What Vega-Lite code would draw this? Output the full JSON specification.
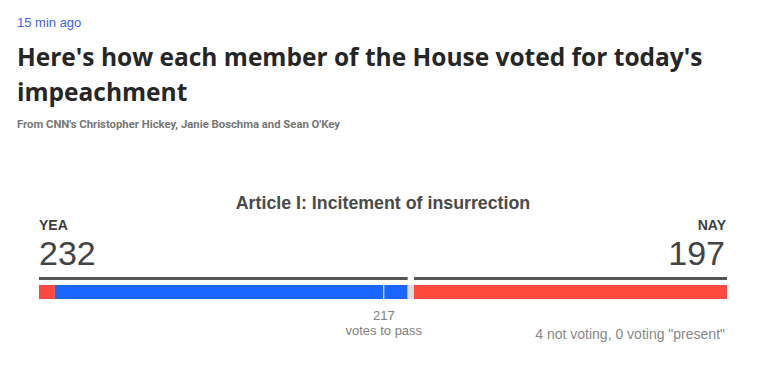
{
  "$schema": "https://vega.github.io/schema/vega-lite/v6.json",
  "background": "white",
  "padding": {"left": 17, "top": 17, "right": 0, "bottom": 0},
  "autosize": {"type": "pad"},
  "title": {
    "text": "15 min ago",
    "subtitle": ["Here's how each member of the House voted for today's", "impeachment"],
    "anchor": "start",
    "font": "Liberation Sans",
    "fontSize": 13,
    "fontWeight": "normal",
    "color": "#4460f0",
    "subtitleFont": "Open Sans",
    "subtitleFontSize": 24.5,
    "subtitleFontWeight": "bold",
    "subtitleColor": "#262626",
    "subtitleLineHeight": 35,
    "subtitlePadding": 17,
    "offset": 13
  },
  "datasets": {
    "sides": [
      {"side": "YEA", "votes": 232, "start": 0, "end": 232},
      {"side": "NAY", "votes": 197, "start": 236, "end": 433}
    ],
    "segments": [
      {"vote": "Yea", "party": "Republican", "start": 0, "end": 10},
      {"vote": "Yea", "party": "Democrat", "start": 10, "end": 232},
      {"vote": "Not voting", "party": "Not voting", "start": 232, "end": 236},
      {"vote": "Nay", "party": "Republican", "start": 236, "end": 433}
    ],
    "threshold": [{"votes": 217, "label": "217\nvotes to pass"}],
    "notes": [{"total": 433, "label": "4 not voting, 0 voting \"present\""}]
  },
  "spacing": 0,
  "vconcat": [
    {
      "width": 688,
      "height": 65,
      "title": {
        "text": "From CNN's Christopher Hickey, Janie Boschma and Sean O'Key",
        "anchor": "start",
        "dx": -22,
        "font": "Roboto",
        "fontSize": 11.3,
        "fontWeight": "bold",
        "color": "#777777",
        "offset": 0
      },
      "data": {"values": []},
      "mark": {"type": "text", "text": ""}
    },
    {
      "width": 688,
      "height": 59.5,
      "title": {
        "text": "Article I: Incitement of insurrection",
        "anchor": "middle",
        "font": "Liberation Sans",
        "fontSize": 17.8,
        "fontWeight": "bold",
        "color": "#4a4a4a",
        "offset": 0
      },
      "data": {"name": "sides"},
      "layer": [
        {
          "transform": [{"filter": "datum.side === 'YEA'"}],
          "mark": {"type": "text", "align": "left", "baseline": "alphabetic", "dy": -13, "font": "Liberation Sans", "fontSize": 14, "fontWeight": "bold", "color": "#404040"},
          "encoding": {
            "x": {"field": "start", "type": "quantitative", "scale": {"domain": [0, 433], "nice": false, "zero": false}, "axis": null},
            "text": {"field": "side"}
          }
        },
        {
          "transform": [{"filter": "datum.side === 'NAY'"}],
          "mark": {"type": "text", "align": "right", "baseline": "alphabetic", "dy": -13, "dx": -1, "font": "Liberation Sans", "fontSize": 14, "fontWeight": "bold", "color": "#404040"},
          "encoding": {
            "x": {"field": "end", "type": "quantitative", "axis": null},
            "text": {"field": "side"}
          }
        },
        {
          "transform": [{"filter": "datum.side === 'YEA'"}],
          "mark": {"type": "text", "align": "left", "baseline": "alphabetic", "dy": 22, "font": "Liberation Sans", "fontSize": 34, "color": "#444444"},
          "encoding": {
            "x": {"field": "start", "type": "quantitative", "axis": null},
            "text": {"field": "votes"}
          }
        },
        {
          "transform": [{"filter": "datum.side === 'NAY'"}],
          "mark": {"type": "text", "align": "right", "baseline": "alphabetic", "dy": 22, "dx": -2, "font": "Liberation Sans", "fontSize": 34, "color": "#444444"},
          "encoding": {
            "x": {"field": "end", "type": "quantitative", "axis": null},
            "text": {"field": "votes"}
          }
        }
      ]
    },
    {
      "width": 688,
      "height": 11,
      "data": {"name": "sides"},
      "mark": {"type": "rule", "strokeWidth": 3, "color": "#555555"},
      "encoding": {
        "x": {"field": "start", "type": "quantitative", "scale": {"domain": [0, 433], "nice": false, "zero": false}, "axis": null},
        "x2": {"field": "end"}
      }
    },
    {
      "width": 688,
      "height": 14,
      "layer": [
        {
          "data": {"name": "segments"},
          "mark": {"type": "bar", "height": 14},
          "encoding": {
            "x": {"field": "start", "type": "quantitative", "scale": {"domain": [0, 433], "nice": false, "zero": false}, "axis": null},
            "x2": {"field": "end"},
            "color": {"field": "party", "type": "nominal", "scale": {"domain": ["Republican", "Democrat", "Not voting"], "range": ["#ff4a40", "#1a66ff", "#dedede"]}, "legend": null}
          }
        },
        {
          "data": {"name": "threshold"},
          "mark": {"type": "rule", "color": "white", "strokeWidth": 1},
          "encoding": {
            "x": {"field": "votes", "type": "quantitative", "axis": null}
          }
        }
      ]
    },
    {
      "width": 688,
      "height": 40,
      "layer": [
        {
          "data": {"name": "threshold"},
          "mark": {"type": "text", "align": "center", "baseline": "alphabetic", "lineBreak": "\n", "lineHeight": 15, "font": "Liberation Sans", "fontSize": 13, "color": "#808080"},
          "encoding": {
            "x": {"field": "votes", "type": "quantitative", "scale": {"domain": [0, 433], "nice": false, "zero": false}, "axis": null},
            "text": {"field": "label"}
          }
        },
        {
          "data": {"name": "notes"},
          "mark": {"type": "text", "align": "right", "baseline": "alphabetic", "dy": 19, "dx": -2, "font": "Liberation Sans", "fontSize": 14, "color": "#888888"},
          "encoding": {
            "x": {"field": "total", "type": "quantitative", "axis": null},
            "text": {"field": "label"}
          }
        }
      ]
    }
  ],
  "config": {
    "view": {"stroke": null},
    "concat": {"spacing": 0}
  }
}
